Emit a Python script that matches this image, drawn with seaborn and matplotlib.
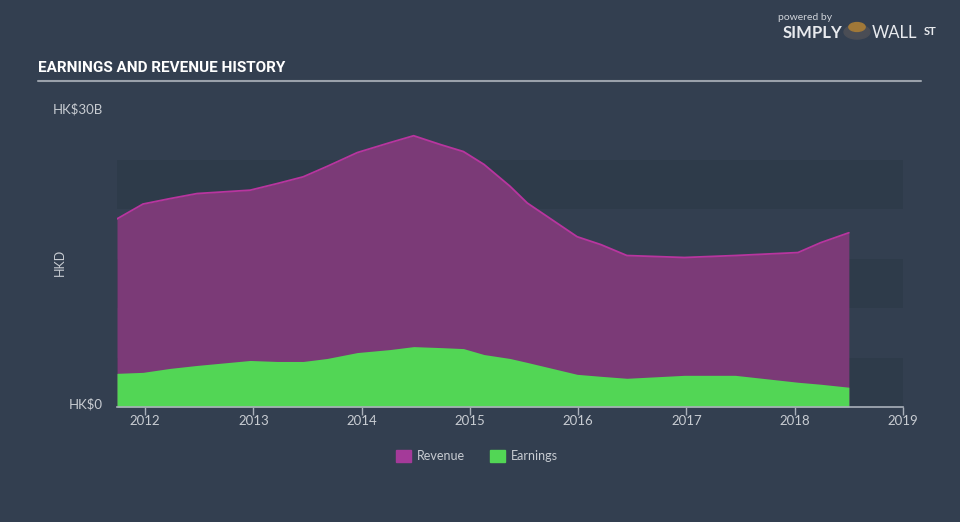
import numpy as np
import pandas as pd
import matplotlib
matplotlib.use("Agg")
import matplotlib.pyplot as plt
import seaborn as sns
from matplotlib import font_manager

# ---- data (HK$ billions) ----
dates = [2011.74, 2011.98, 2012.23, 2012.48, 2012.97, 2013.22, 2013.46, 2013.68,
         2013.96, 2014.26, 2014.48, 2014.73, 2014.94, 2015.13, 2015.37, 2015.53,
         2015.99, 2016.21, 2016.45, 2016.98, 2017.45, 2018.03, 2018.24, 2018.50]
revenue = [19.0, 20.5, 21.05, 21.56, 21.9, 22.57, 23.25, 24.3,
           25.7, 26.7, 27.4, 26.5, 25.8, 24.5, 22.3, 20.6,
           17.2, 16.4, 15.3, 15.1, 15.3, 15.6, 16.6, 17.6]
earnings = [3.4, 3.5, 3.9, 4.2, 4.7, 4.6, 4.6, 4.9,
            5.5, 5.8, 6.1, 6.0, 5.9, 5.3, 4.9, 4.5,
            3.3, 3.1, 2.9, 3.2, 3.2, 2.5, 2.3, 2.0]
year_ticks = [2012, 2013, 2014, 2015, 2016, 2017, 2018, 2019]
y_tick_vals = [0, 30]
y_tick_labels = ["HK$0", "HK$30B"]
series_names = ["Revenue", "Earnings"]

df = pd.DataFrame({"date": dates, "Revenue": revenue, "Earnings": earnings})

BG = "#333f50"
BAND_DARK = "#2e3b4a"
REV_FILL = "#7b3a77"
REV_LINE = "#b8359f"
EARN_FILL = "#52d655"
TXT = "#c8ccd2"

sns.set_style("dark")
plt.rcParams["font.family"] = ["Lato", "DejaVu Sans"]

names = {f.name for f in font_manager.fontManager.ttflist}
title_family = "Liberation Sans Narrow" if "Liberation Sans Narrow" in names else "Roboto"

fig = plt.figure(figsize=(9.6, 5.22), dpi=100, facecolor=BG)
ax = fig.add_axes([117 / 960, 1 - 407 / 522, 786 / 960, 297 / 522])
ax.set_facecolor(BG)

# background bands
for lo in (0, 10, 20):
    ax.axhspan(lo, lo + 5, color=BAND_DARK, lw=0, zorder=0)

ax.fill_between(df["date"], 0, df["Revenue"], color=REV_FILL, lw=0, zorder=1)
sns.lineplot(data=df, x="date", y="Revenue", ax=ax, color=REV_LINE, lw=1.3, zorder=2)
ax.fill_between(df["date"], 0, df["Earnings"], color=EARN_FILL, lw=0, zorder=3)

ax.set_xlim(2011.74, 2019.0)
ax.set_ylim(0, 30)
ax.grid(False)
for s in ("top", "right", "left"):
    ax.spines[s].set_visible(False)
ax.spines["bottom"].set_color("#a9b0ba")
ax.spines["bottom"].set_linewidth(1.2)
ax.spines["bottom"].set_zorder(5)

ax.set_xticks(year_ticks)
ax.set_xticklabels([str(y) for y in year_ticks], color=TXT, fontsize=9.5)
ax.tick_params(axis="x", length=6, width=1, color="#a9b0ba", pad=0, bottom=True)
ax.set_yticks([])
ax.set_xlabel("")
ax.set_ylabel("")

ax.text(-0.018, 0.3, y_tick_labels[0], transform=ax.get_yaxis_transform(), ha="right",
        va="center", color=TXT, fontsize=9.5)
ax.text(-0.018, 30.1, y_tick_labels[1], transform=ax.get_yaxis_transform(), ha="right",
        va="center", color=TXT, fontsize=9.5)
fig.text(60 / 960, 1 - 262 / 522, "HKD", rotation=90, ha="center", va="center",
         color=TXT, fontsize=9)

# title + rule
fig.text(38 / 960, 1 - 68 / 522, "EARNINGS AND REVENUE HISTORY", color="white",
         fontsize=11, fontweight="bold", family=title_family,
         ha="left", va="center")
fig.add_artist(plt.Line2D([38 / 960, 921 / 960], [1 - 81 / 522, 1 - 81 / 522],
                          color="#9aa1ab", lw=1.5))

# logo
fig.text(805 / 960, 1 - 18 / 522, "powered by", color="#d0d4da", fontsize=7.5,
         ha="center", va="center")
fig.text(842 / 960, 1 - 33 / 522, "SIMPLY", color="#e8eaee", fontsize=12,
         fontweight="bold", ha="right", va="center")
fig.add_artist(matplotlib.patches.Circle((857 / 960, 1 - 32 / 522), 0.0135,
               transform=fig.transFigure, color="#4a4d55"))
fig.add_artist(matplotlib.patches.Circle((857 / 960, 1 - 27 / 522), 0.0085,
               transform=fig.transFigure, color="#a07838"))
fig.text(872 / 960, 1 - 33 / 522, "WALL", color="#e8eaee", fontsize=12,
         ha="left", va="center")
fig.text(924 / 960, 1 - 31 / 522, "ST", color="#e8eaee", fontsize=8,
         fontweight="bold", ha="left", va="center")

# legend
handles = [matplotlib.patches.Patch(color="#a43a99", label=series_names[0]),
           matplotlib.patches.Patch(color=EARN_FILL, label=series_names[1])]
leg = fig.legend(handles=handles, loc="center", bbox_to_anchor=(477 / 960, 1 - 456 / 522),
                 ncol=2, frameon=False, fontsize=9, handlelength=1.2, handleheight=1.2,
                 columnspacing=2.0, handletextpad=0.5)
for t in leg.get_texts():
    t.set_color(TXT)

fig.savefig("out.png", dpi=100, facecolor=BG)
